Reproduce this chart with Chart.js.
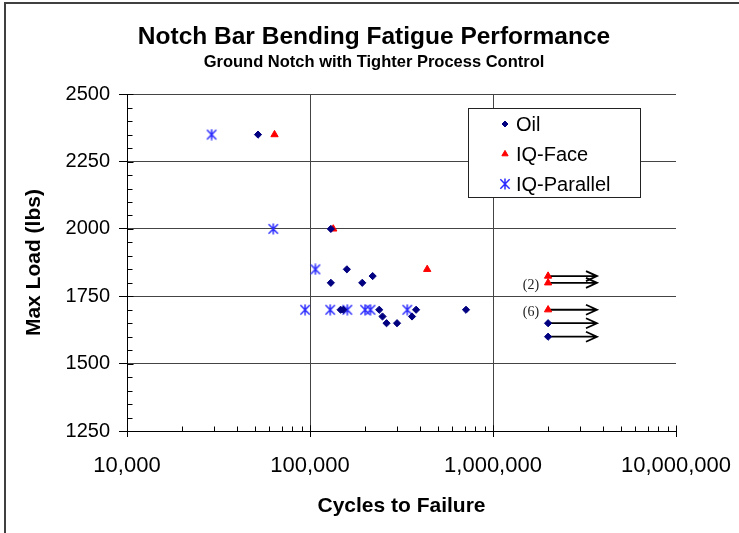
<!DOCTYPE html>
<html>
<head>
<meta charset="utf-8">
<script src="https://cdn.jsdelivr.net/npm/chart.js@4/dist/chart.umd.min.js"></script>
<style>
  html, body { margin: 0; padding: 0; background: #fff; }
  canvas { display: block; }
</style>
</head>
<body>
<canvas id="fatigue_chart" width="739" height="533"></canvas>
<script>
(function () {
  'use strict';

  // series names
  const seriesNames = ['Oil', 'IQ-Face', 'IQ-Parallel'];

  // Oil (cycles, max load)
  const oilCycles = [52000, 130000, 130000, 159000, 193000, 220000, 147000, 152000, 239000,
    249000, 262000, 299000, 361000, 380000, 712000, 2000000, 2000000];
  const oilLoads = [2350, 2000, 1800, 1850, 1800, 1825, 1700, 1700, 1700,
    1675, 1650, 1650, 1675, 1700, 1700, 1650, 1600];

  // IQ-Face
  const faceCycles = [64000, 134000, 437000, 2000000, 2000000, 2000000];
  const faceLoads = [2350, 2000, 1850, 1825, 1800, 1700];

  // IQ-Parallel
  const parallelCycles = [29000, 63000, 107000, 94000, 129000, 160000, 200000, 214000, 340000];
  const parallelLoads = [2350, 2000, 1850, 1700, 1700, 1700, 1700, 1700, 1700];

  // axis ticks
  const xTickValues = [10000, 100000, 1000000, 10000000];
  const yTickValues = [1250, 1500, 1750, 2000, 2250, 2500];

  // run-outs (no failure) -> arrows
  const runoutCycles = 2000000;
  const arrowTipCycles = 3700000;
  const runoutNotes = [['(2)', 1800], ['(6)', 1700]];

  const FONT = "'Liberation Sans', Arial, Helvetica, sans-serif";
  Chart.defaults.font.family = FONT;
  Chart.defaults.color = '#000';

  // asterisk marker (X + vertical bar)
  function starMarker(size, color) {
    const c = document.createElement('canvas');
    c.width = size;
    c.height = size;
    const g = c.getContext('2d');
    const m = size / 2;
    const r = size / 2 - 0.5;
    g.strokeStyle = color;
    g.lineWidth = 1.5;
    g.beginPath();
    g.moveTo(m, m - r); g.lineTo(m, m + r);
    g.moveTo(m - r * 0.85, m - r * 0.85); g.lineTo(m + r * 0.85, m + r * 0.85);
    g.moveTo(m + r * 0.85, m - r * 0.85); g.lineTo(m - r * 0.85, m + r * 0.85);
    g.stroke();
    return c;
  }

  const toPoints = (xs, ys) => xs.map((x, i) => ({ x: x, y: ys[i] }));
  const withCommas = v => String(Math.round(v)).replace(/\B(?=(\d{3})+(?!\d))/g, ',');

  const datasets = [
    {
      label: seriesNames[0],
      data: toPoints(oilCycles, oilLoads),
      pointStyle: 'rectRot',
      pointRadius: 3.6,
      backgroundColor: '#000080',
      borderColor: '#000080',
      borderWidth: 1,
    },
    {
      label: seriesNames[1],
      data: toPoints(faceCycles, faceLoads),
      pointStyle: 'triangle',
      pointRadius: 4.2,
      backgroundColor: '#ff0000',
      borderColor: '#ff0000',
      borderWidth: 1,
    },
    {
      label: seriesNames[2],
      data: toPoints(parallelCycles, parallelLoads),
      pointStyle: starMarker(12, '#2b2bff'),
      pointRadius: 6,
      backgroundColor: '#2b2bff',
      borderColor: '#2b2bff',
    },
  ];

  // background, outer frame, inner tick marks
  const framePlugin = {
    id: 'frame',
    beforeDraw(chart) {
      const ctx = chart.ctx;
      ctx.save();
      ctx.fillStyle = '#fff';
      ctx.fillRect(0, 0, chart.width, chart.height);
      ctx.strokeStyle = '#404040';
      ctx.lineWidth = 2;
      ctx.beginPath();
      ctx.moveTo(5, chart.height);
      ctx.lineTo(5, 3);
      ctx.lineTo(chart.width, 3);
      ctx.stroke();
      ctx.restore();
    },
    afterDraw(chart) {
      const ctx = chart.ctx;
      const xs = chart.scales.x;
      const ys = chart.scales.y;
      const ax = Math.round(xs.left) + 0.5;
      const ay = Math.round(ys.bottom) + 0.5;
      ctx.save();
      ctx.strokeStyle = '#000';
      ctx.lineWidth = 1;
      ctx.beginPath();
      for (let v = ys.min; v <= ys.max; v += 50) {
        const py = Math.round(ys.getPixelForValue(v)) + 0.5;
        const len = (v % 250 === 0) ? 6 : 5;
        ctx.moveTo(ax, py);
        ctx.lineTo(ax + len, py);
      }
      for (let d = xs.min; d < xs.max; d *= 10) {
        for (let k = 1; k <= 10; k++) {
          const px = Math.round(xs.getPixelForValue(d * k)) + 0.5;
          const len = (k === 1 || k === 10) ? 6 : 5;
          ctx.moveTo(px, ay);
          ctx.lineTo(px, ay - len);
        }
      }
      ctx.stroke();
      ctx.restore();
    },
  };

  // arrows for run-outs
  const runoutPlugin = {
    id: 'runouts',
    beforeDatasetsDraw(chart) {
      const ctx = chart.ctx;
      const xs = chart.scales.x;
      const ys = chart.scales.y;
      const x0 = xs.getPixelForValue(runoutCycles);
      const x1 = xs.getPixelForValue(arrowTipCycles);
      ctx.save();
      ctx.strokeStyle = '#000';
      ctx.lineWidth = 1.8;
      chart.data.datasets.forEach(ds => {
        ds.data.forEach(p => {
          if (p.x !== runoutCycles) return;
          const py = ys.getPixelForValue(p.y);
          ctx.beginPath();
          ctx.moveTo(x0, py);
          ctx.lineTo(x1, py);
          ctx.moveTo(x1 - 11, py - 5);
          ctx.lineTo(x1, py);
          ctx.lineTo(x1 - 11, py + 5);
          ctx.stroke();
        });
      });
      ctx.fillStyle = '#222';
      ctx.font = "14px 'Liberation Serif', 'Times New Roman', serif";
      ctx.textAlign = 'right';
      ctx.textBaseline = 'middle';
      runoutNotes.forEach(n => {
        ctx.fillText(n[0], x0 - 9, ys.getPixelForValue(n[1]) + 3);
      });
      ctx.restore();
    },
  };

  // legend box inside the plot
  const legendPlugin = {
    id: 'boxLegend',
    afterDraw(chart) {
      const ctx = chart.ctx;
      const left = 468, top = 108, w = 172, h = 89;
      ctx.save();
      ctx.fillStyle = '#fff';
      ctx.fillRect(left, top, w, h);
      ctx.strokeStyle = '#222';
      ctx.lineWidth = 1;
      ctx.strokeRect(left + 0.5, top + 0.5, w, h);
      ctx.font = '20px ' + FONT;
      ctx.textBaseline = 'middle';
      ctx.textAlign = 'left';
      chart.data.datasets.forEach((ds, i) => {
        const y = top + 16 + i * 30;
        const mx = left + 37;
        ctx.fillStyle = ds.backgroundColor;
        ctx.strokeStyle = ds.borderColor;
        ctx.lineWidth = 1;
        if (Chart.helpers && Chart.helpers.drawPoint) {
          Chart.helpers.drawPoint(ctx, {
            pointStyle: ds.pointStyle,
            radius: ds.pointStyle === 'triangle' ? 3.6 : (typeof ds.pointStyle === 'string' ? 3 : 5),
            rotation: 0,
            borderWidth: 1,
          }, mx, y);
        }
        ctx.fillStyle = '#000';
        ctx.fillText(ds.label, left + 48, y + 1);
      });
      ctx.restore();
    },
  };

  const options = {
    responsive: false,
    animation: false,
    events: [],
    layout: { padding: { left: 9, right: 0, top: 0, bottom: 0 } },
    plugins: {
      legend: { display: false },
      tooltip: { enabled: false },
      title: {
        display: true,
        text: 'Notch Bar Bending Fatigue Performance',
        color: '#000',
        font: { size: 24.5, weight: 'bold' },
        padding: { top: 23, bottom: 0 },
      },
      subtitle: {
        display: true,
        text: 'Ground Notch with Tighter Process Control',
        color: '#000',
        font: { size: 16.5, weight: 'bold' },
        padding: { top: 0, bottom: 22 },
      },
    },
    scales: {
      x: {
        type: 'logarithmic',
        min: xTickValues[0],
        max: xTickValues[xTickValues.length - 1],
        afterBuildTicks: s => { s.ticks = xTickValues.map(v => ({ value: v })); },
        afterFit: s => {
          s.height = 102;
          s.paddingLeft = 0;
          s.paddingRight = 0;
        },
        grid: {
          color: c => (c.tick && c.tick.value === xTickValues[xTickValues.length - 1]) ? 'rgba(0,0,0,0)' : '#444',
          tickColor: '#000',
          tickLength: 6,
        },
        border: { color: '#000' },
        ticks: {
          autoSkip: false,
          maxRotation: 0,
          padding: 16,
          color: '#000',
          font: { size: 22 },
          callback: v => withCommas(v),
        },
        title: {
          display: true,
          text: 'Cycles to Failure',
          color: '#000',
          font: { size: 21, weight: 'bold' },
          padding: { top: 0, bottom: 14 },
        },
      },
      y: {
        type: 'linear',
        min: yTickValues[0],
        max: yTickValues[yTickValues.length - 1],
        afterBuildTicks: s => { s.ticks = yTickValues.map(v => ({ value: v })); },
        afterFit: s => { s.width = 118; },
        grid: { color: '#444', tickColor: '#000', tickLength: 8 },
        border: { color: '#000' },
        ticks: { padding: 9, color: '#000', font: { size: 20 }, callback: v => String(v) },
        title: {
          display: true,
          text: 'Max Load (lbs)',
          color: '#000',
          font: { size: 21, weight: 'bold' },
          padding: { top: 13, bottom: 0 },
        },
      },
      // empty right-hand box that keeps the plot's right edge where it is
      spacer: {
        type: 'linear',
        position: 'right',
        display: true,
        afterFit: s => { s.width = 63; },
        grid: { display: false, drawTicks: false },
        border: { display: false },
        ticks: { display: false },
      },
    },
  };

  const ctx = document.getElementById('fatigue_chart').getContext('2d');
  new Chart(ctx, {
    type: 'scatter',
    data: { datasets: datasets },
    options: options,
    plugins: [framePlugin, runoutPlugin, legendPlugin],
  });
})();
</script>
</body>
</html>
